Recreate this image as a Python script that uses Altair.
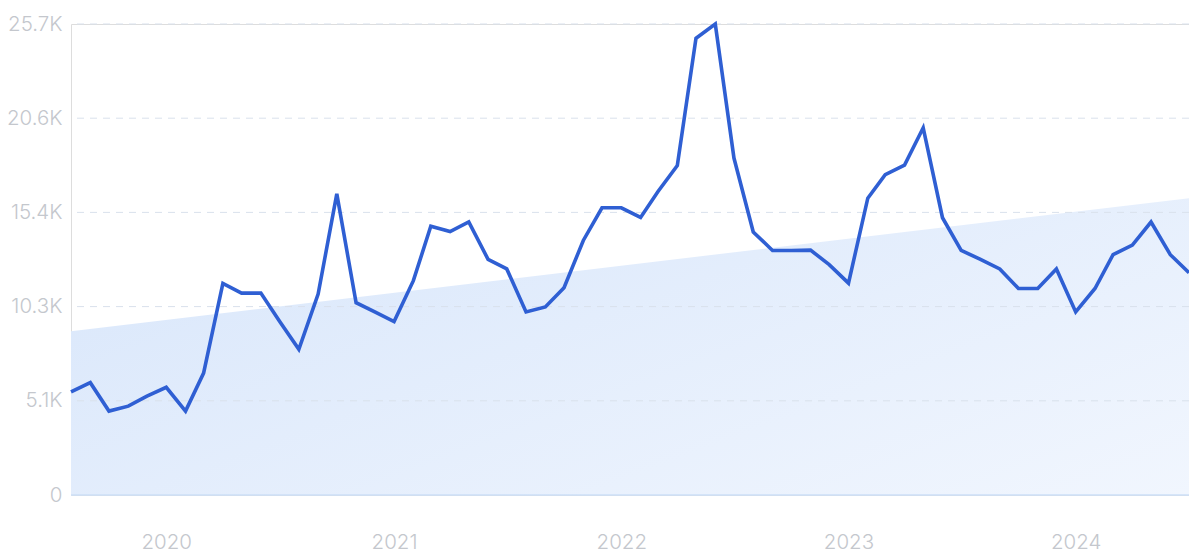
import altair as alt
import pandas as pd

months = pd.date_range("2019-08-01", "2024-07-01", freq="MS").strftime("%Y-%m-%d").tolist()
values = [
    5625, 6129, 4578, 4849, 5392, 5877, 4578, 6653, 11541, 11017,
    11017, 9485, 7952, 10959, 16428, 10493, 9989, 9465, 11696, 14663,
    14372, 14896, 12860, 12336, 9989, 10260, 11308, 13888, 15672, 15672,
    15148, 16564, 17980, 24924, 25700, 18387, 14353, 13344, 13344, 13364,
    12569, 11560, 16196, 17476, 17999, 20036, 15129, 13344, 12860, 12336,
    11269, 11269, 12336, 9989, 11269, 13112, 13635, 14896, 13112, 12123,
]
trend_dates = ["2019-08-01", "2024-07-01"]
trend_values = [8941, 16196]
y_ticks = [0, 5140, 10280, 15420, 20560, 25700]
x_ticks = ["2020-01-01", "2021-01-01", "2022-01-01", "2023-01-01", "2024-01-01"]

df = pd.DataFrame({"date": months, "value": values})
trend = pd.DataFrame({"date": trend_dates, "value": trend_values})
zero = pd.DataFrame({"date": trend_dates, "value": [0, 0]})
grid = pd.DataFrame({"value": y_ticks[1:]})

x_scale = alt.Scale(domain=[pd.Timestamp("2019-08-01").isoformat(), pd.Timestamp("2024-07-01").isoformat()])
y_scale = alt.Scale(domain=[0, 25700], nice=False, zero=True)

label_style = dict(labelFontSize=20.5, labelColor="#c4c7cd", labelFont="Inter", labelFontWeight=300)

x_enc = alt.X(
    "date:T",
    scale=x_scale,
    axis=alt.Axis(
        values=[pd.Timestamp(t).isoformat() for t in x_ticks],
        format="%Y",
        title=None,
        grid=False,
        ticks=False,
        domain=False,
        labelPadding=37,
        **label_style,
    ),
)
y_enc = alt.Y(
    "value:Q",
    scale=y_scale,
    axis=alt.Axis(
        values=y_ticks,
        labelExpr="datum.value == 0 ? '0' : format(datum.value / 1000, '.1f') + 'K'",
        title=None,
        ticks=False,
        domain=False,
        grid=False,
        labelPadding=9,
        **label_style,
    ),
)

area = alt.Chart(trend).mark_area(
    color=alt.Gradient(
        gradient="linear",
        stops=[
            alt.GradientStop(color="#dbe8fb", offset=0),
            alt.GradientStop(color="#f1f6fe", offset=1),
        ],
        x1=0, x2=1, y1=0.3, y2=1,
    ),
    opacity=1,
).encode(x=x_enc, y=y_enc)

grid_rules = alt.Chart(grid).mark_rule(
    color="#d9e1ec", strokeWidth=1, strokeDash=[7, 6]
).encode(y=alt.Y("value:Q", scale=y_scale))

baseline = alt.Chart(zero).mark_line(color="#cddff7", strokeWidth=1.5).encode(
    x=alt.X("date:T", scale=x_scale), y=alt.Y("value:Q", scale=y_scale)
)

line = alt.Chart(df).mark_line(
    color="#2f5fd3", strokeWidth=3.6, strokeJoin="miter"
).encode(x=alt.X("date:T", scale=x_scale), y=alt.Y("value:Q", scale=y_scale))

chart = (
    alt.layer(area, grid_rules, baseline, line)
    .properties(
        width=1118,
        height=471,
        autosize=alt.AutoSizeParams(type="none"),
        padding={"left": 63, "top": 16, "right": 0, "bottom": 60},
    )
    .configure_view(stroke=None)
    .configure(background="white")
)

chart.save("out.html", embed_options={"renderer": "svg", "actions": False})
